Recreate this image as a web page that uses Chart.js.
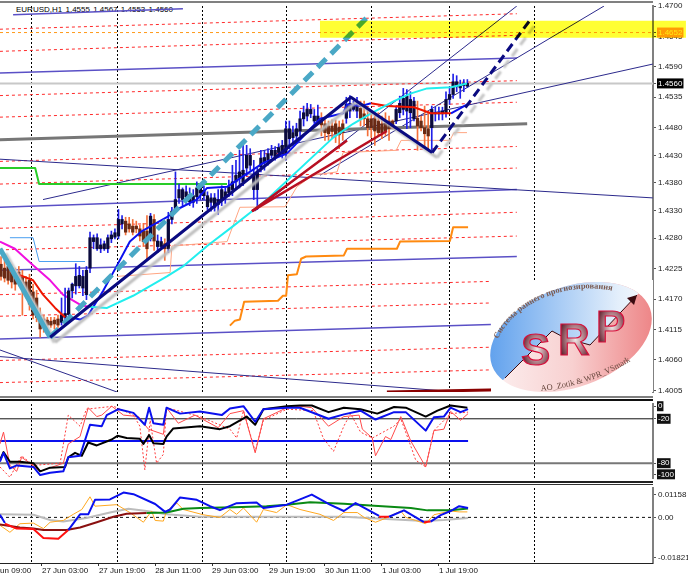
<!DOCTYPE html>
<html><head><meta charset="utf-8">
<script src="https://cdn.jsdelivr.net/npm/chart.js@4"></script>
<style>
html,body{margin:0;padding:0;background:#fff;overflow:hidden;width:688px;height:579px}
canvas{position:absolute;left:-60px}
.rule{position:absolute;left:0;width:653px}
#title{position:absolute;left:16px;top:5px;font:8px/10px "Liberation Sans";color:#000;white-space:nowrap;word-spacing:1px}
#logo{position:absolute;left:0;top:0}
</style></head><body>
<div id="title">EURUSD,H1  1.4555  1.4567  1.4553  1.4560</div>
<canvas id="main" width="748" height="398" style="top:0"></canvas>
<canvas id="wpr" width="748" height="86" style="top:398px"></canvas>
<canvas id="osc" width="748" height="97" style="top:482px"></canvas>
<div class="rule" style="top:1px;height:2px;background:#808080"></div>
<div class="rule" style="top:396px;height:2px;background:#808080"></div>
<div class="rule" style="top:399px;height:2px;background:#111"></div>
<div class="rule" style="top:481px;height:2px;background:#222"></div>
<div class="rule" style="top:484px;height:1px;background:#333"></div>
<div class="rule" style="top:563px;height:1px;background:#222"></div>
<svg id="logo" width="688" height="579">
<defs>
<linearGradient id="sky" x1="0" x2="1"><stop offset="0" stop-color="#589cec"/><stop offset=".75" stop-color="#e4effb"/><stop offset="1" stop-color="#fff"/></linearGradient>
<linearGradient id="rose" x1="0" x2="1"><stop offset="0" stop-color="#fdf4f4"/><stop offset=".5" stop-color="#f8d0d0"/><stop offset="1" stop-color="#ec7a7c"/></linearGradient>
<radialGradient id="letter" cx=".55" cy=".5" r=".6"><stop offset="0" stop-color="#efe6e6"/><stop offset=".45" stop-color="#b08088"/><stop offset="1" stop-color="#4a0614"/></radialGradient>
<clipPath id="oval"><ellipse cx="571" cy="337" rx="84" ry="50" transform="rotate(-20 571 337)"/></clipPath>
<path id="arcTop" d="M498 339 C 515 302, 570 278, 622 293"/>
<path id="arcBottom" d="M541 391 Q 590 386 629 362"/>
</defs>
<rect x="491" y="280" width="162" height="112" fill="#fff"/>
<g clip-path="url(#oval)">
<rect x="480" y="270" width="185" height="130" fill="url(#rose)"/>
<polygon fill="url(#sky)" points="490,393 505,378 552,331 565,338 590,345 637,295 665,268 480,268 480,393"/>
</g>
<polyline fill="none" stroke="#3a0a10" stroke-width="1" points="505,378 552,331 565,338 590,345 637,295"/>
<polygon fill="#3a0a10" points="637,295 627,298 634,305"/>
<g font-family="Liberation Sans" font-weight="bold" font-size="44" fill="url(#letter)" stroke="#d8103c" stroke-width="1.2">
<text x="521" y="365">S</text><text x="558" y="355">R</text><text x="596" y="342">P</text>
</g>
<text font-family="Liberation Serif" font-weight="bold" font-size="8.4" fill="#7a5a50"><textPath href="#arcTop">Система раннего прогнозирования</textPath></text>
<text font-family="Liberation Serif" font-size="8.4" fill="#6a4a40"><textPath href="#arcBottom">AO_Zotik &amp; WPR_VSmark</textPath></text>
</svg>
<script>
// x axis is measured in hourly bars
const xMin=-17.14, xMax=183.15;
const separatorBars=[8.7,32.6,56.5,80.3,104.2,126.1,150];
const timeBars=[-4.5,11.5,27.5,43.3,59.3,75.3,91,107,123];
const timeLabels=["26 Jun 09:00","27 Jun 03:00","27 Jun 19:00","28 Jun 11:00","29 Jun 03:00","29 Jun 19:00","30 Jun 11:00","1 Jul 03:00","1 Jul 19:00"];

// price axis
const priceTicks=[1.47,1.4645,1.4652,1.459,1.4560,1.4535,1.448,1.443,1.438,1.433,1.428,1.4225,1.417,1.4115,1.406,1.4005];
const priceMin=1.4002, priceMax=1.47, bidPrice=1.456, pendingPrice=1.4652;

// candles, in units of 0.0001
const opens=[14233,14226,14229,14222,14215,14219,14211,14201,14204,14183,14172,14141,14134,14132,14130,14132,14134,14128,14137,14142,14185,14194,14194,14190,14178,14226,14274,14261,14261,14261,14261,14279,14282,14284,14306,14311,14306,14302,14302,14297,14293,14293,14279,14314,14265,14265,14270,14261,14314,14332,14353,14350,14355,14346,14345,14355,14362,14357,14337,14345,14336,14341,14350,14353,14362,14368,14382,14389,14382,14407,14412,14368,14368,14409,14417,14421,14430,14428,14435,14433,14433,14460,14462,14465,14474,14496,14501,14505,14492,14492,14492,14487,14483,14483,14487,14481,14487,14497,14510,14513,14510,14515,14505,14496,14496,14496,14492,14487,14488,14492,14492,14492,14507,14513,14510,14507,14496,14497,14492,14480,14478,14480,14505,14505,14505,14507,14531,14540,14554,14552,14556,14555];
const closes=[14211,14208,14204,14201,14197,14201,14194,14179,14161,14141,14137,14116,14125,14123,14123,14125,14123,14141,14144,14185,14197,14211,14213,14211,14222,14281,14281,14281,14268,14270,14281,14286,14290,14314,14314,14291,14297,14291,14297,14284,14274,14261,14320,14275,14275,14274,14261,14314,14329,14350,14368,14368,14364,14359,14357,14371,14371,14366,14357,14353,14353,14350,14368,14364,14373,14382,14394,14400,14403,14430,14430,14394,14398,14425,14426,14433,14439,14439,14444,14448,14478,14478,14471,14478,14496,14507,14513,14513,14501,14501,14485,14471,14469,14473,14469,14467,14471,14522,14524,14522,14521,14497,14496,14480,14480,14474,14471,14471,14474,14478,14483,14513,14524,14533,14537,14531,14528,14483,14480,14469,14465,14513,14507,14507,14510,14531,14540,14563,14563,14556,14560,14560];
const highs=[14247,14240,14243,14233,14226,14229,14222,14211,14215,14197,14186,14154,14141,14137,14137,14137,14141,14172,14190,14190,14199,14234,14229,14222,14229,14291,14286,14288,14279,14275,14286,14293,14297,14332,14321,14318,14318,14314,14311,14304,14307,14321,14325,14323,14286,14282,14279,14327,14336,14400,14378,14371,14375,14371,14368,14382,14378,14375,14364,14361,14361,14368,14375,14371,14385,14412,14421,14439,14448,14448,14442,14421,14407,14439,14439,14442,14448,14446,14451,14457,14492,14492,14483,14488,14510,14519,14524,14522,14513,14521,14507,14494,14492,14494,14494,14492,14494,14535,14538,14528,14535,14528,14528,14513,14510,14507,14507,14501,14507,14501,14494,14517,14537,14551,14549,14545,14535,14528,14501,14519,14510,14519,14517,14517,14517,14545,14554,14577,14574,14566,14567,14567];
const lows=[14204,14201,14197,14190,14186,14194,14141,14172,14150,14134,14129,14101,14110,14116,14119,14116,14119,14123,14126,14137,14172,14179,14190,14176,14169,14218,14261,14258,14254,14258,14254,14272,14279,14279,14297,14286,14291,14286,14290,14275,14265,14240,14275,14258,14254,14261,14240,14254,14306,14329,14343,14339,14343,14339,14336,14343,14350,14350,14332,14329,14329,14323,14339,14343,14355,14357,14368,14371,14375,14393,14403,14350,14332,14400,14403,14412,14425,14421,14430,14425,14421,14442,14448,14453,14465,14483,14492,14498,14488,14488,14465,14457,14457,14460,14453,14442,14457,14488,14498,14510,14498,14483,14483,14465,14462,14448,14465,14460,14465,14457,14478,14487,14498,14503,14478,14480,14492,14439,14474,14442,14442,14439,14492,14494,14494,14499,14522,14533,14545,14533,14545,14553];

// dashed red fan levels: [bar at start, bar at end, price at start, price at end]
const fibEndBars=[144.9,144.9,144.9,144.9,144.9,144.9,144.9,144.9,137.6,137.6,137.6,137.6];
const fibStartPrices=[1.4658,1.4618,1.4538,1.4499,1.4419,1.4378,1.4298,1.4259,1.4178,1.4139,1.4059,1.4019];
const fibEndPrices=[1.4686,1.4647,1.4565,1.4526,1.4446,1.4407,1.4327,1.4284,1.4202,1.4163,1.4083,1.4042];

// purple channel lines
const purpleStartBars=[3.4,-0.3,-0.3,-0.3,-0.3];
const purpleEndBars=[51.1,144.9,144.9,144.9,137.6];
const purpleStartPrices=[1.4684,1.4579,1.4336,1.4222,1.4098];
const purpleEndPrices=[1.4695,1.4606,1.4368,1.4247,1.4124];

// thin navy trend lines
const navyStartBars=[-0.3,11.8,89.6,71.3,-0.3,-0.3];
const navyEndBars=[183.1,183.1,169.4,144.9,32.6,124.4];
const navyStartPrices=[1.4423,1.435,1.4394,1.4329,1.4078,1.4066];
const navyEndPrices=[1.4353,1.4595,1.47,1.47,1.4002,1.4004];

const grayTrendBars=[-0.3,147.8], grayTrend=[1.4458,1.4487];
const darkRedBars=[108.4,147.8], darkRed=[1.4002,1.4007];
const bandBars=[89.6,192.4], bandPrice=1.4658;

const zigzagBars=[13.8,98.3,121.1], zigzag=[1.4101,1.4535,1.4435];
const projectionBars=[121.1,148.9], projection=[1.4435,1.4677];
const tealBars=[-0.3,13.8], teal=[1.4261,1.4101];
const tealDashBars=[13.8,102.8], tealDash=[1.4101,1.4679];
const redFanBars=[70.5,97.2], redFan=[1.4329,1.4457];
const redFan2Bars=[70.5,108.4], redFan2=[1.4329,1.4474];

const orangeBars=[64.3,65.7,67.1,68.3,77.8,79.2,80.1,80.6,83.1,84.3,85.7,96.3,97.2,111.2,112.1,126.1,127,131.2];
const orange=[1.4122,1.4131,1.4133,1.4165,1.4167,1.4176,1.4176,1.4213,1.4215,1.4243,1.4247,1.4249,1.4261,1.4261,1.4274,1.4275,1.43,1.43];
const peachBars=[32.6,47.5,48,63.5,67.1,79.8,83.1,87.6,94.4,96.1,111,112.4,126.1,127.2,130.9];
const peach=[1.4211,1.4218,1.4266,1.4274,1.4336,1.4337,1.4373,1.4394,1.44,1.4435,1.4439,1.4457,1.4457,1.4471,1.4471];
const skyBars=[2.5,9,10.7,23.6], sky=[1.4281,1.4281,1.4238,1.4238];
const greenStepBars=[-0.3,9.6,10.7,63.5], greenStep=[1.4407,1.4407,1.4378,1.4378];
const magentaBars=[-0.3,3.9,9,13.8,17.4,22.2,24.4], magenta=[1.4274,1.4261,1.4231,1.4204,1.4178,1.416,1.4156];
const maRedLeftBars=[2.5,9,11.8,15.2,18], maRedLeft=[1.422,1.4204,1.4178,1.4154,1.4137];
const maBlueBars=[19.4,22.2,24.4,28.7,32.6,36.2,39.6,46.6,49.4,55,57.9,63.5,73.6,80.3,89.6,96.1,97.2,101.1,103.9];
const maBlue=[1.4137,1.4133,1.414,1.4185,1.4231,1.4274,1.4293,1.4318,1.4332,1.435,1.4371,1.4373,1.4416,1.4433,1.4496,1.4506,1.4522,1.4519,1.4524];
const maRedBars=[103.9,108.4,116,120.8,126.4], maRed=[1.4524,1.4519,1.4517,1.4506,1.4506];
const maBlueEndBars=[126.4,131.5], maBlueEnd=[1.4506,1.4524];
const cyanBars=[24.4,29.8,37.1,46.6,51.1,57.9,65.2,70.5,74.7,93.3,98.9,103.7,110.4,115.2,119.7,126.4,130.9];
const cyan=[1.4156,1.4154,1.4176,1.4211,1.4229,1.4266,1.4302,1.4329,1.435,1.4462,1.4487,1.4505,1.4528,1.4542,1.4551,1.4553,1.456];

// Williams %R panel
const wprTicks=[-3,-20,-80,-95], wprLabels=["0","-20","-80","-100"];
const wprBlackBars=[-0.3,.7,2.5,5.3,9.1,11,13.8,18,18.9,20.8,22.7,24.5,26.9,31.1,32.7,35.3,39,40,41.6,42.8,45.6,46.5,48.4,55.9,61.5,64.3,69,71.4,73.7,80.3,84,87.3,92,96.3,101,105.7,110.4,113.7,119.3,122.6,126.3,131];
const wprBlack=[-76,-65,-78,-78,-80,-91,-86,-85,-72,-66,-70,-52,-56,-48,-43,-46,-47,-54,-42,-53,-54,-44,-33,-30,-34,-30,-17,-28,-7,-3,-2,-2,-11,-5,-7,-13,-4,-5,-17,-9,-2,-5];
const wprBlueBars=[-0.3,.7,2.5,4.4,9.1,11,13.8,17.5,18.9,22.2,25,28.3,29.7,33,37.2,40.4,41.6,42.8,45.6,46.5,50.3,55.9,62,64.3,68.1,71.4,73.7,80.3,84,92,96.3,101,105.2,110.4,113.7,119.3,121.6,124.4,126.3,129.1,131.2];
const wprBlue=[-78,-66,-87,-83,-85,-96,-93,-91,-72,-70,-28,-30,-15,-7,-12,-28,-5,-26,-28,-5,-13,-10,-15,-6,-3,-24,-7,-5,-5,-20,-14,-9,-21,-11,-11,-36,-18,-17,-5,-11,-7];
const wprRedBars=[-0.3,.7,2.5,4.4,5.8,8.1,11,17.5,18.9,22.2,24.5,26.9,28.3,31.1,34.4,38.6,41.4,45.6,46.5,49.8,54.5,61,64.3,68.1,71.4,73.7,80.3,84,87.3,92,96.3,100.6,101.5,104.3,105.2,108,109.5,112.3,115.1,119.3,121.6,124.4,126.3,129.1,131.2];
const wprRed=[-54,-38,-83,-91,-72,-80,-91,-80,-54,-44,-5,-17,-15,-3,-15,-17,-34,-41,-5,-26,-15,-32,-13,-9,-66,-20,-5,-3,-5,-30,-17,-15,-34,-46,-70,-44,-48,-17,-50,-85,-36,-34,-10,-22,-13];
const wprDashBars=[-0.3,2.5,5.8,9.1,16.6,18.9,22.2,24,31.6,37.2,39,40.4,41.9,43.7,45.6,46.5,55.9,64.3,66.2,68.1,71.4,73.7,80.3,87.7,90.5,93.4,96.3,98.2,101,104.3,110.4,112.3,115.5,116.5,119.3,121.6,126.3,131.2];
const wprDash=[-85,-99,-70,-83,-80,-15,-30,-7,-3,-15,-30,-89,-22,-80,-68,-5,-17,-34,-46,-9,-64,-22,-7,-9,-46,-64,-30,-13,-38,-46,-30,-20,-62,-76,-85,-36,-13,-11];
const wprMidBars=[-0.3,131.2], wprMid=-50;

// oscillator panel
const oscTicks=[0.0104,0,-0.01821], oscLabels=["0.01158","0.00","-0.01821"];
const oscBlueBars=[-0.3,1.1,1.1,18.9,22.2,24.5,26.4,30.6,34.4,37.2,43.3,46.1,47.5,50.3,55,58.7,61.5,66.2,71.8,73.7,80.3,84,87.3,92.4,96.3,99.6,106.2,107,109,113.2,118.8,119.5,120.7,123.5,126.3,128.7,131.2];
const oscBlue=[.0012,-.0026,null,-.0058,.0014,.0014,.008,.0082,.0113,.0106,.0061,.0025,.0036,.0091,.008,.0051,.0033,.0065,.0068,.0043,.0058,.0082,.0104,.0058,.0029,.0065,.0007,null,.0003,.0032,-.0022,null,-.0019,.001,.0029,.0051,.0043];
const oscRedBars=[1.1,4.4,9.1,11.9,16.1,18.9,20,106.2,109,112,118.8,120.7];
const oscRed=[-.0029,-.0051,-.0053,-.0094,-.0097,-.0058,null,.0003,.0003,null,-.0022,-.0019];
const oscMaroonBars=[-0.3,5.3,9.1,11.9,18.4,22.2,26.9,31.6,35.3,40.9];
const oscMaroon=[-.0032,-.0046,-.0051,-.0058,-.0058,-.0046,-.0022,.0003,.0017,.002];
const oscGreenBars=[40.9,46.5,51.2,55.9,65.3,74.6,80.3,86.8,96.3,104.8,115.1,119.8,126.3,131.2];
const oscGreen=[.002,.0022,.0039,.0043,.0046,.0051,.0058,.0069,.0062,.0053,.0043,.0032,.0032,.004];
const oscGrayBars=[-0.3,9.1,13.8,17.5,24,30.6,35.8,40.9,46.5,55.9,96.3,118.8,124.4,131.2];
const oscGray=[.0014,.0012,-.0012,-.0019,-.0003,.0022,.0039,.0029,.0014,.0003,.0003,-.0017,-.0012,-.0003];
const oscOrangeBars=[-0.3,2.5,5.3,9.1,11.9,13.8,17.5,20.3,22.7,25,26.4,32.5,36.2,40,42.3,43.3,45.6,46.5,49.4,51.2,56.8,61.5,64.3,66.2,68.1,71.8,73.7,77.4,80.3,84,89.6,93.4,96.3,100.1,102,105.2,107.6,112.3,113.7,116.5,119.3,121.6,126.3,128.7,131];
const oscOrange=[-.0036,-.0068,-.0029,-.0026,-.0051,-.0022,-.0014,.0014,.0036,.0094,.0051,.0058,.0022,-.0022,.0029,-.0014,-.0017,.0029,.0065,.0036,.0012,0,.0036,.0014,.0043,-.0022,.0036,.0022,.0058,.0036,.0014,-.0014,.0022,.0022,0,-.0022,-.0007,.0029,0,-.0014,-.0029,.0012,.0029,.0025,.0025];

const FONT={family:"Liberation Sans",size:8,lineHeight:1};
const pts=(xs,ys)=>xs.map((x,i)=>({x,y:ys[i]}));
const ln=(xs,ys,color,width,extra)=>Object.assign({type:'line',data:pts(xs,ys),borderColor:color,borderWidth:width,pointRadius:0,tension:0,fill:false,spanGaps:false,borderCapStyle:'butt',borderJoinStyle:'round'},extra||{});
const level=(v,color,width,extra)=>ln([xMin,xMax],[v,v],color,width,extra);

const fx={id:'fx',
 beforeDatasetDraw(c,a){const d=c.data.datasets[a.index],x=c.ctx;x.save();
  if(d.shade){x.shadowColor=d.shade;x.shadowOffsetX=5;x.shadowOffsetY=5;x.shadowBlur=2;}
  if(d.multiply){x.globalCompositeOperation='multiply';}},
 afterDatasetDraw(c){c.ctx.restore();}};

function xAxis(){return {type:'linear',min:xMin,max:xMax,offset:false,
  afterBuildTicks:s=>{s.ticks=separatorBars.map(value=>({value}));},
  afterFit:s=>{s.height=0;},
  ticks:{display:false,autoSkip:false},
  grid:{color:'#000',lineWidth:1,drawTicks:false,offset:false},
  border:{display:false,dash:[2,2]}};}
function yAxis(min,max,values,label,color,back){return {type:'linear',position:'right',min,max,
  afterBuildTicks:s=>{s.ticks=values.map(value=>({value}));},
  afterFit:s=>{s.width=35;},
  ticks:{autoSkip:false,font:FONT,padding:2,callback:label,color:color,showLabelBackdrop:true,backdropColor:back,backdropPadding:{top:1,bottom:1,left:1,right:1}},
  grid:{drawOnChartArea:false,tickLength:3,color:'#555'},
  border:{color:'#808080',width:2}};}
function build(id,datasets,scales,padding){
 datasets.forEach((d,i)=>{d.order=datasets.length-i;});
 return new Chart(document.getElementById(id),{type:'line',data:{datasets},plugins:[fx],options:{
  responsive:false,animation:false,events:[],layout:{padding},
  plugins:{legend:{display:false},tooltip:{enabled:false},title:{display:false}},scales}});}

const wicks={type:'bar',grouped:false,barThickness:1,borderWidth:0,
 data:highs.map((h,i)=>({x:i,y:[lows[i]/1e4,h/1e4]})),
 backgroundColor:closes.map((c,i)=>c>=opens[i]?'#2020e8':'#f4703a')};
const bodies={type:'bar',grouped:false,barThickness:2.6,borderWidth:0,
 data:opens.map((o,i)=>({x:i,y:[o/1e4,closes[i]/1e4]})),
 backgroundColor:closes.map((c,i)=>c>=opens[i]?'#0a0a3c':'#6a2a14')};

const RED_D='#ff2a2a',PUR='#5a50c6',NAVY='#2c2a8c';
build('main',[
 level(bidPrice,'#c8c8c8',2),
 ...fibStartPrices.map((p,i)=>ln([-0.3,fibEndBars[i]],[p,fibEndPrices[i]],RED_D,1,{borderDash:[3,3]})),
 level(pendingPrice,'#ff9a1a',1,{borderDash:[3,3]}),
 ...purpleStartPrices.map((p,i)=>ln([purpleStartBars[i],purpleEndBars[i]],[p,purpleEndPrices[i]],PUR,1.5)),
 ...navyStartPrices.map((p,i)=>ln([navyStartBars[i],navyEndBars[i]],[p,navyEndPrices[i]],NAVY,1)),
 ln(grayTrendBars,grayTrend,'#777',3),
 ln(greenStepBars,greenStep,'#28cc28',2),
 ln(skyBars,sky,'#4a9ff0',1),
 ln(magentaBars,magenta,'#f010e0',2),
 ln(peachBars,peach,'#ffa582',1),
 ln(orangeBars,orange,'#ff8a10',2),
 wicks,bodies,
 ln(maRedLeftBars,maRedLeft,'#ee1500',2),
 ln(maBlueBars,maBlue,'#0a10ee',2),
 ln(maRedBars,maRed,'#ee1500',2),
 ln(maBlueEndBars,maBlueEnd,'#0a10ee',2),
 ln(cyanBars,cyan,'#22eeee',2),
 ln(redFanBars,redFan,'#b80f22',2.5),
 ln(redFan2Bars,redFan2,'#b80f22',2.5),
 ln(tealBars,teal,'#4aa8c6',5,{shade:'#c8c8c8'}),
 ln(tealDashBars,tealDash,'#4aa8c6',5,{borderDash:[12,7]}),
 ln(zigzagBars,zigzag,'#0a0a80',3,{shade:'#bdbdbd'}),
 ln(projectionBars,projection,'#0a0a80',3,{borderDash:[9,5],shade:'#c4c4c4'}),
 ln(darkRedBars,darkRed,'#8a0000',3),
 Object.assign(level(bandPrice,'#ffff33',17,{multiply:true,clip:false}),{data:pts(bandBars,[bandPrice,bandPrice])})
],{x:xAxis(),y:yAxis(priceMin,priceMax,priceTicks,
  v=>v.toFixed(4),
  c=>{const v=c.tick.value;return v===bidPrice?'#fff':(v===pendingPrice?'#ffe860':'#222');},
  c=>{const v=c.tick.value;return v===bidPrice?'#000':(v===pendingPrice?'#ff9c10':'rgba(255,255,255,0)');})},
 {top:3,bottom:2,left:0,right:0});

build('wpr',[
 level(-20,'#111',1),
 level(-80,'#777',2),
 ln(wprMidBars,[wprMid,wprMid],'#0a10ee',2),
 ln(wprDashBars,wprDash,'#ff3a3a',1,{borderDash:[2,2]}),
 ln(wprRedBars,wprRed,'#ff4a4a',1),
 ln(wprBlackBars,wprBlack,'#000',2),
 ln(wprBlueBars,wprBlue,'#0a10ee',2)
],{x:xAxis(),y:yAxis(-100,0,wprTicks,(v,i)=>wprLabels[i],
  c=>'#fff',c=>'#111')},{top:2,bottom:2,left:0,right:0});

const xLabelAxis={type:'linear',position:'bottom',min:xMin,max:xMax,offset:false,
 afterBuildTicks:s=>{s.ticks=timeBars.map(value=>({value}));},
 afterFit:s=>{s.height=16;},
 ticks:{autoSkip:false,maxRotation:0,minRotation:0,align:'start',font:FONT,color:'#111',padding:1,callback:(v,i)=>timeLabels[i]},
 grid:{drawOnChartArea:false,tickLength:3,color:'#333',offset:false},
 border:{display:false}};
build('osc',[
 level(0,'#111',1,{borderDash:[3,3]}),
 ln(oscGrayBars,oscGray,'#bcbcbc',2),
 ln(oscOrangeBars,oscOrange,'#ffa820',1),
 ln(oscMaroonBars,oscMaroon,'#8a1010',2),
 ln(oscGreenBars,oscGreen,'#0a8a14',2),
 ln(oscRedBars,oscRed,'#ff1010',2),
 ln(oscBlueBars,oscBlue,'#0a10ee',2)
],{x:xAxis(),x2:xLabelAxis,y:yAxis(-0.0208,0.0134,oscTicks,(v,i)=>oscLabels[i],
  c=>'#222',c=>'rgba(255,255,255,0)')},{top:2,bottom:0,left:0,right:0});
</script>
</body></html>
